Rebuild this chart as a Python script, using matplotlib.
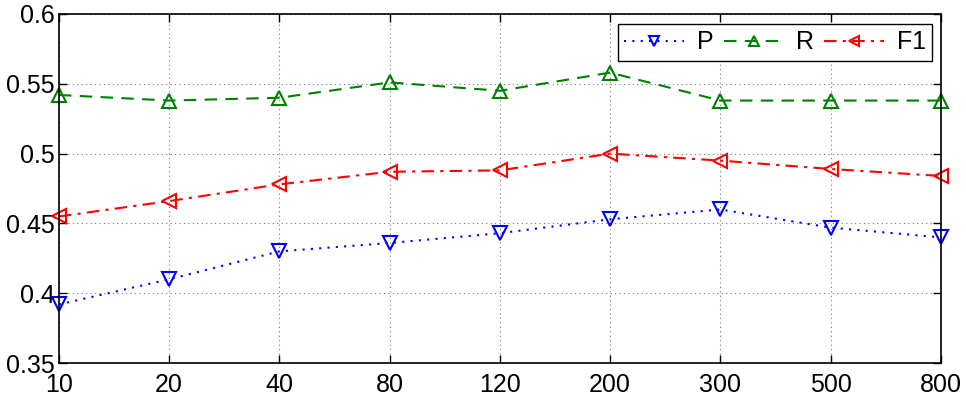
import matplotlib
matplotlib.use("Agg")
import matplotlib.pyplot as plt
import numpy as np

plt.rcParams['font.family'] = ['Liberation Sans', 'DejaVu Sans']

categories = ['10', '20', '40', '80', '120', '200', '300', '500', '800']
p_vals = [0.392, 0.410, 0.430, 0.436, 0.443, 0.453, 0.460, 0.447, 0.440]
r_vals = [0.542, 0.538, 0.540, 0.551, 0.545, 0.558, 0.538, 0.538, 0.538]
f1_vals = [0.455, 0.466, 0.478, 0.487, 0.488, 0.500, 0.495, 0.489, 0.484]
y_ticks = [0.35, 0.4, 0.45, 0.5, 0.55, 0.6]
y_tick_labels = ['0.35', '0.4', '0.45', '0.5', '0.55', '0.6']

fig = plt.figure(figsize=(9.66, 3.99), dpi=100)
ax = fig.add_axes([0.061, 0.090, 0.913, 0.875])

x = np.arange(len(categories))
ms = 10
mew = 1.5
lw = 1.5
ax.plot(x, p_vals, color='#0000ff', linestyle=(0, (1, 3)), linewidth=lw, marker='v',
        markersize=ms, markerfacecolor='none', markeredgewidth=mew, label='P', clip_on=False)
ax.plot(x, r_vals, color='#008000', linestyle=(0, (6, 4)), linewidth=lw, marker='^',
        markersize=ms, markerfacecolor='none', markeredgewidth=mew, label='R', clip_on=False)
ax.plot(x, f1_vals, color='#ff0000', linestyle=(0, (6, 3, 1.5, 3)), linewidth=lw, marker='<',
        markersize=ms, markerfacecolor='none', markeredgewidth=mew, label='F1', clip_on=False)

ax.set_xlim(0, len(categories) - 1)
ax.set_ylim(0.35, 0.6)
ax.set_xticks(x)
ax.set_xticklabels(categories)
ax.set_yticks(y_ticks)
ax.set_yticklabels(y_tick_labels)
ax.tick_params(direction='in', top=True, right=True, labelsize=18, length=6, width=1)
ax.tick_params(axis='x', pad=7)
ax.tick_params(axis='y', pad=3)
ax.grid(True, linestyle=(0, (1, 3)), color='#777777', linewidth=0.8)
for s in ax.spines.values():
    s.set_linewidth(1.2)
    s.set_zorder(5)

leg = ax.legend(loc='upper right', ncol=3, fontsize=18, fancybox=False, framealpha=1,
                edgecolor='black', handlelength=2.4, columnspacing=0.4, handletextpad=0.5,
                borderpad=0.25, markerscale=0.7, borderaxespad=0,
                bbox_to_anchor=(0.9898, 0.971))
leg.get_frame().set_linewidth(1.0)

fig.savefig('out.png', dpi=100)
